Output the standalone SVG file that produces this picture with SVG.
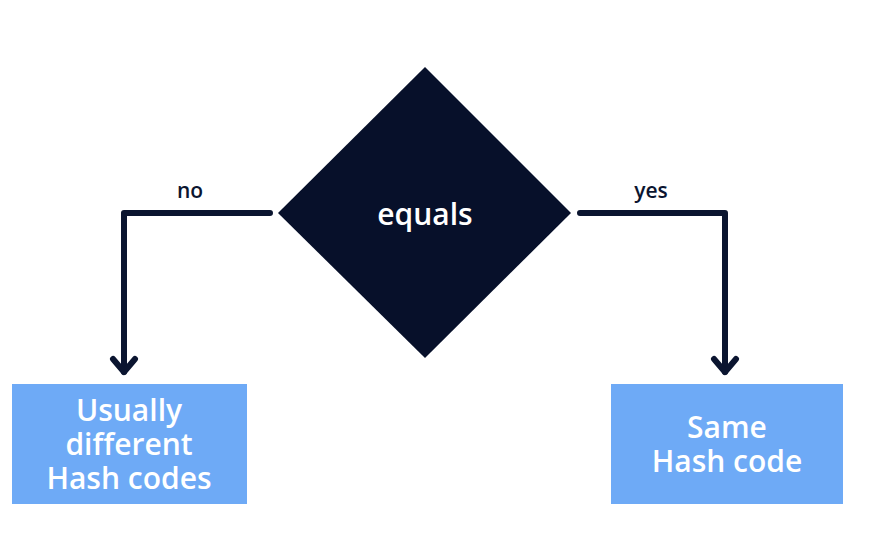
<svg xmlns="http://www.w3.org/2000/svg" width="884" height="557" viewBox="0 0 884 557">
<style>
.conn{fill:none;stroke:#0b1530;stroke-width:6;stroke-linecap:round;stroke-linejoin:round}
.lbl{font-family:"Open Sans","Liberation Sans",sans-serif;font-weight:600;font-size:21px;fill:#0b1530;text-anchor:middle}
.box{fill:#6eaaf6}
.bt{font-family:"Open Sans","Liberation Sans",sans-serif;font-weight:600;font-size:30px;fill:#ffffff;text-anchor:middle}
</style>
<rect width="884" height="557" fill="#ffffff"/>
<g id="connectors">
<polyline class="conn" points="270,213 124,213 124,372"/>
<polyline class="conn" points="113,359 124,372 135,359"/>
<polyline class="conn" points="580,213 725,213 725,372"/>
<polyline class="conn" points="714,359 725,372 736,359"/>
<text class="lbl" x="190" y="198">no</text>
<text class="lbl" x="651" y="198">yes</text>
</g>
<g id="equals">
<polygon points="425,67 571,213 425,358 278,213" fill="#07102a"/>
<text x="425" y="225" font-family="Open Sans, Liberation Sans, sans-serif" font-weight="600" font-size="30" fill="#ffffff" text-anchor="middle">equals</text>
</g>
<g id="different">
<rect class="box" x="12" y="384" width="235" height="120"/>
<text class="bt" x="129" y="421">Usually</text>
<text class="bt" x="129" y="455">different</text>
<text class="bt" x="129" y="489">Hash codes</text>
</g>
<g id="same">
<rect class="box" x="611" y="384" width="232" height="120"/>
<text class="bt" x="727" y="438">Same</text>
<text class="bt" x="727" y="472">Hash code</text>
</g>
</svg>
